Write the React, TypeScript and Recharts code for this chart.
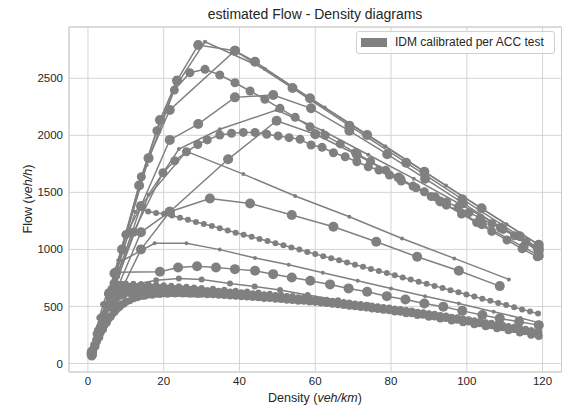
import { ScatterChart, Scatter, XAxis, YAxis, CartesianGrid, ReferenceArea } from 'recharts'

type Pt = [number, number]

const GREY = '#808080'
const TEXT = '#262626'
const FONT = '"Liberation Sans", Arial, sans-serif'

// upper family: jam branch ends near 1000 veh/h at 119 veh/km
const u1: Pt[] = [[1.2,118],[8,905],[15.5,1740],[23,2420],[30.9,2821],[46.7,2582],[62.5,2245],[78.5,1905],[94.5,1560],[110.5,1220],[119,1040]]
const u2: Pt[] = [[1.1,105],[7,790],[13.5,1560],[19,2134],[23.5,2480],[29.1,2792],[38.8,2742],[44.1,2646],[58.6,2325],[73.7,2003],[88.8,1681],[103.9,1360],[119,1040]]
const u3: Pt[] = [[1,100],[9,1000],[16,1800],[21.6,2222],[38.8,2742],[54,2415],[69,2085],[84,1760],[98.8,1440],[114,1115],[119,1010]]
const u4: Pt[] = [[1.1,108],[5.5,620],[10,1130],[14.1,1637],[18.2,2040],[22.8,2397],[26.9,2549],[30.9,2579],[34.8,2529],[38.8,2461],[42.8,2389],[46.7,2316],[50.7,2237],[54.7,2158],[58.6,2075],[62.6,2000],[66.6,1925],[70.6,1848],[74.6,1772],[78.6,1695],[82.6,1618],[86.6,1540],[90.6,1463],[94.6,1388],[98.6,1310],[102.6,1235],[106.6,1158],[110.6,1082],[114.6,1005],[118.6,935]]
const u5: Pt[] = [[1,95],[7,700],[14,1380],[21.6,1960],[29.1,2099],[38.8,2333],[48.9,2353],[58.9,2237],[69,2040],[79,1835],[89,1620],[99,1405],[109,1190],[119,985]]
const u6: Pt[] = [[1,90],[8,760],[16,1480],[24,1880],[34.8,2053],[49.8,2222],[62,2040],[74,1830],[86,1620],[98,1400],[110,1180],[119,1000]]
const u7: Pt[] = [[1,90],[6,560],[12,1150],[19.8,1672],[22.9,1777],[26,1856],[29,1920],[31.5,1960],[34.8,2003],[37.9,2018],[41,2026],[44.1,2026],[47.2,2010],[50.2,1995],[53.1,1980],[56,1965],[58.9,1915],[61.8,1895],[64.8,1847],[67.9,1812],[71,1768],[74,1725],[76.8,1696],[79.6,1652],[82.7,1600],[85.8,1555],[88.8,1505],[91.7,1461],[94.7,1415],[97.7,1370],[100.6,1322],[103.6,1275],[106.6,1225],[109.6,1175],[112.6,1120],[115.6,1065],[118.6,1005]]
const u8: Pt[] = [[1,75],[7,520],[14,1000],[21.6,1330],[37,1790],[49.8,2128],[60,2010],[71,1830],[82,1630],[93,1420],[104,1220],[115,1020],[119,945]]

// middle curves
const m1: Pt[] = [[1,95],[12.5,1330],[26,1860],[41,1660],[54.7,1468],[69,1286],[82.9,1096],[96.7,921],[111.1,737]]
const m2: Pt[] = [[1,85],[7,600],[14,1150],[21.6,1330],[32.2,1447],[42.8,1403],[53.8,1301],[64.8,1198],[76.1,1067],[86.9,935],[97.9,813],[108.7,678]]
const m3: Pt[] = [[1.1,100],[5.5,560],[10.2,1140],[13.7,1360],[15.9,1332],[18,1320],[20.1,1312],[22.2,1298],[24.3,1278],[26.4,1259],[28.5,1240],[30.6,1223],[32.7,1206],[34.8,1186],[36.9,1166],[39,1147],[41.1,1128],[43.2,1110],[45.3,1091],[47.4,1073],[49.5,1054],[51.6,1036],[53.7,1017],[55.8,998],[57.9,978],[60,960],[62.1,941],[64.2,922],[66.3,904],[68.4,885],[70.5,866],[72.6,848],[74.7,829],[76.8,810],[78.9,792],[81,773],[83.1,754],[85.2,736],[87.3,717],[89.4,698],[91.5,680],[93.6,661],[95.7,642],[97.8,624],[99.9,605],[102,586],[104.1,568],[106.2,549],[108.3,530],[110.4,512],[112.5,493],[114.6,474],[116.7,456],[118.8,437]]
const m4: Pt[] = [[1,85],[9,900],[17.6,1053],[26,1053],[34.8,998],[44.1,925],[53,865],[62,795],[71.2,725],[80,658],[89,590],[97.9,526],[107.1,453],[114.2,398],[119,358]]
const m5: Pt[] = [[1,75],[4,380],[7.5,800],[19,804],[23.8,842],[28.8,853],[33.8,842],[38.8,827],[44.1,812],[48.9,783],[53.8,754],[58.7,725],[63.9,693],[68.8,658],[73.7,628],[78.9,590],[83.8,561],[88.8,526],[93.8,497],[98.8,461],[104.1,424],[108.7,395],[113.8,365],[119,336]]
const m6: Pt[] = [[1,70],[6,560],[12,690],[18,730],[24,745],[30,735],[37.5,702],[44,675],[50.7,643],[58,600],[66,555],[74,510],[82,465],[90,420],[98,378],[106,338],[114,305],[119,295]]

// low-capacity bundle, sampled on two staggered density grids
const bundleDensityA = [1,2,3,4,5,6,7,8,9,10,12,14,16,18,20,22,24,26,28,30,33,36,39,42,45,48,51,54,57,60,63,66,69,72,75,78,81,84,87,90,93,96,99,102,105,108,111,114,117,119]
const bundleDensityB = [1.5,2.5,3.5,4.5,5.5,6.5,7.5,8.5,9.5,11,13,15,17,19,21,23,25,27,29,31.5,34.5,37.5,40.5,43.5,46.5,49.5,52.5,55.5,58.5,61.5,64.5,67.5,70.5,73.5,76.5,79.5,82.5,85.5,88.5,91.5,94.5,97.5,100.5,103.5,106.5,109.5,112.5,115.5,118.5]
const b1 = [115,260,400,520,610,660,685,695,699,700,699,697,694,690,686,682,677,672,667,661,654,646,638,630,621,612,602,592,581,570,559,547,535,522,509,496,482,468,454,440,425,410,394,378,362,345,328,311,294,285]
const b2 = [165,290,410,515,590,632,653,664,669,671,671,669,667,664,660,656,652,648,644,638,632,626,619,611,603,595,586,576,566,556,545,534,522,510,498,486,473,459,445,431,416,400,384,368,352,335,317,299,281]
const b3 = [85,205,320,420,505,570,610,630,641,646,650,650,649,648,646,644,641,638,635,631,626,620,614,607,600,592,583,574,565,555,545,534,523,511,499,487,474,461,447,433,418,403,387,371,354,337,319,300,281,270]
const b4 = [130,238,338,423,490,540,573,594,607,618,625,628,630,630,630,628,626,624,621,617,612,606,600,593,585,577,569,560,551,541,531,521,510,499,487,475,463,449,435,421,406,390,374,358,340,322,304,284,265]
const b5 = [60,150,230,300,360,410,452,488,518,540,572,592,604,611,615,617,617,616,614,611,606,600,594,588,581,573,565,557,549,540,529,518,506,494,482,470,455,440,425,409,393,377,361,344,326,308,290,271,252,240]
const b6 = [95,190,270,335,388,432,468,498,522,550,575,590,599,604,607,608,608,607,605,602,597,591,585,578,570,562,554,546,538,529,519,508,497,486,474,462,449,436,422,408,393,378,363,347,331,314,297,279,261]

const xTicks = [0, 20, 40, 60, 80, 100, 120]
const yTicks = [0, 500, 1000, 1500, 2000, 2500]

const toRows = (pts: Pt[]) => pts.map(([d, q]) => ({ d, q }))
const bundleRows = (grid: number[], flow: number[]) => grid.map((d, i) => ({ d, q: flow[i] }))

const series = [
  { id: 'b5', rows: bundleRows(bundleDensityA, b5), r: 4 },
  { id: 'b6', rows: bundleRows(bundleDensityB, b6), r: 3.5 },
  { id: 'b4', rows: bundleRows(bundleDensityB, b4), r: 4 },
  { id: 'b3', rows: bundleRows(bundleDensityA, b3), r: 3.5 },
  { id: 'b2', rows: bundleRows(bundleDensityB, b2), r: 3.5 },
  { id: 'b1', rows: bundleRows(bundleDensityA, b1), r: 3 },
  { id: 'm6', rows: toRows(m6), r: 3 },
  { id: 'm5', rows: toRows(m5), r: 5 },
  { id: 'm4', rows: toRows(m4), r: 2 },
  { id: 'm3', rows: toRows(m3), r: 3 },
  { id: 'm2', rows: toRows(m2), r: 5 },
  { id: 'm1', rows: toRows(m1), r: 2 },
  { id: 'u8', rows: toRows(u8), r: 5 },
  { id: 'u7', rows: toRows(u7), r: 4.5 },
  { id: 'u6', rows: toRows(u6), r: 2 },
  { id: 'u5', rows: toRows(u5), r: 5 },
  { id: 'u4', rows: toRows(u4), r: 4.5 },
  { id: 'u3', rows: toRows(u3), r: 5 },
  { id: 'u2', rows: toRows(u2), r: 5 },
  { id: 'u1', rows: toRows(u1), r: 2 },
]

const dot = (r: number) => (props: any) => (
  <circle cx={props.cx} cy={props.cy} r={r} fill={GREY} />
)

export default function App() {
  return (
    <div style={{ position: 'absolute', left: 0, top: 0, width: 563, height: 408, fontFamily: FONT, background: '#fff' }}>
      <div style={{ position: 'absolute', left: 69, top: 6, width: 492, textAlign: 'center', fontSize: 14, lineHeight: '16px', color: TEXT }}>
        estimated Flow - Density diagrams
      </div>
      <ScatterChart width={563} height={408} margin={{ top: 27, right: 1.5, bottom: 0, left: 0 }}>
        <CartesianGrid stroke="#d4d4d4" strokeWidth={1} />
        <XAxis
          type="number"
          dataKey="d"
          domain={[-5, 125]}
          ticks={xTicks}
          allowDataOverflow
          height={36}
          tickSize={0}
          tickMargin={5}
          axisLine={false}
          tickLine={false}
          tick={{ fontSize: 11.5, fill: TEXT, fontFamily: FONT }}
          label={{
            content: () => (
              <text x={315} y={402} textAnchor="middle" fontSize={12.5} fill={TEXT} fontFamily={FONT}>
                Density (<tspan fontStyle="italic">veh/km</tspan>)
              </text>
            ),
          }}
        />
        <YAxis
          type="number"
          dataKey="q"
          domain={[-75, 2950]}
          ticks={yTicks}
          allowDataOverflow
          width={69}
          tickSize={0}
          tickMargin={6}
          axisLine={false}
          tickLine={false}
          tick={{ fontSize: 11.5, fill: TEXT, fontFamily: FONT }}
          label={{
            content: () => (
              <text x={28} y={199} transform="rotate(-90, 28, 199)" textAnchor="middle" dominantBaseline="central" fontSize={12.5} fill={TEXT} fontFamily={FONT}>
                Flow (<tspan fontStyle="italic">veh/h</tspan>)
              </text>
            ),
          }}
        />
        <ReferenceArea x1={-5} x2={125} y1={-75} y2={2950} fill="none" stroke="#cccccc" strokeWidth={1} />
        {series.map((s) => (
          <Scatter
            key={s.id}
            data={s.rows}
            line={{ stroke: GREY, strokeWidth: 1.5 }}
            shape={dot(s.r)}
            isAnimationActive={false}
          />
        ))}
      </ScatterChart>
      <div
        style={{
          position: 'absolute',
          left: 356,
          top: 31,
          width: 197,
          height: 21,
          border: '1px solid #d0d0d0',
          borderRadius: 3,
          background: 'rgba(255,255,255,0.8)',
          fontSize: 12,
          color: TEXT,
        }}
      >
        <div style={{ position: 'absolute', left: 4, top: 6, width: 26, height: 8.5, background: GREY }} />
        <div style={{ position: 'absolute', left: 38, top: 3, lineHeight: '15px', whiteSpace: 'nowrap' }}>
          IDM calibrated per ACC test
        </div>
      </div>
    </div>
  )
}
